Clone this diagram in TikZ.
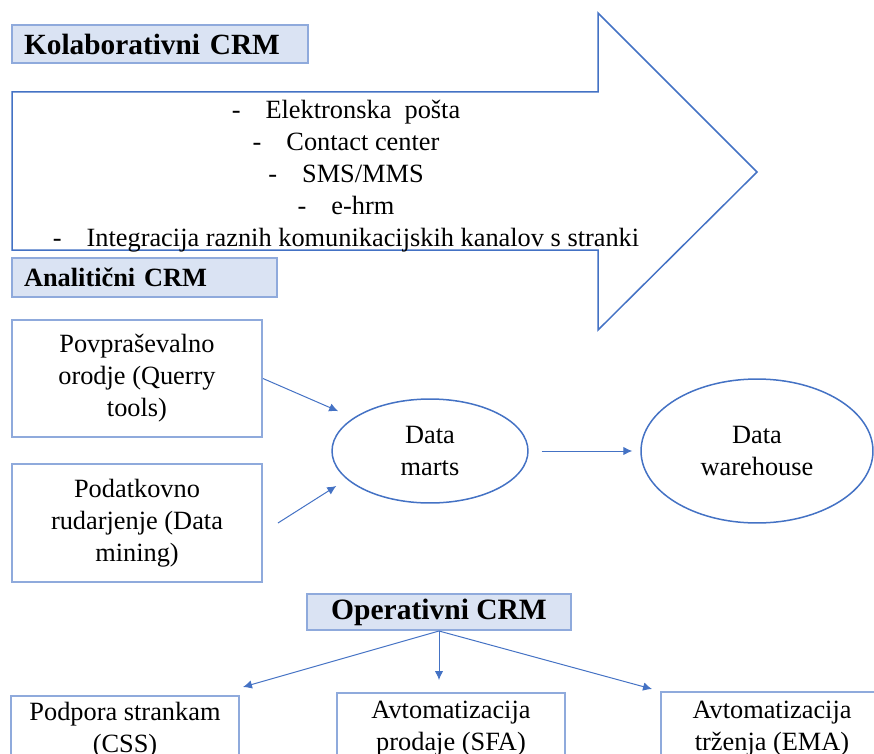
\documentclass[tikz,border=0pt]{standalone}
\usepackage{fontspec}
\setmainfont{Liberation Serif}
\usetikzlibrary{calc, arrows.meta, shapes.geometric}

\definecolor{crmblue}{HTML}{4472C4}
\definecolor{crmline}{HTML}{8FAADC}
\definecolor{crmfill}{HTML}{DAE3F3}
\newcommand{\crmtext}{\fontsize{15}{18.2}\selectfont}

\begin{document}
\begin{tikzpicture}[x=0.02cm, y=-0.02cm, >={Latex[length=0.18cm, width=0.17cm]}]
	\tikzstyle{head} = [draw=crmline, line width=0.04cm, fill=crmfill, inner xsep=0.24cm, inner ysep=0pt, align=left]
	\tikzstyle{box} = [draw=crmline, line width=0.04cm, inner sep=0pt, align=center, font=\crmtext]
	\tikzstyle{oval} = [draw=crmblue, line width=0.03cm, ellipse, inner sep=0pt, align=center, font=\crmtext]
	\tikzstyle{invis} = [draw=none, align=center, font=\crmtext]
	\tikzstyle{link} = [->, draw=crmblue, line width=0.02cm]
	
	\useasboundingbox (0, 0) rectangle (874, 753);
	\clip (0, 0) rectangle (874, 753);
	
	% kolaborativni
	\draw[crmblue, line width=0.03cm] (12, 92) -- (598, 92) -- (598, 13) -- (757, 172)
		-- (598, 330) -- (598, 250) -- (12, 250) -- cycle;
	\node[head, text width=5.44cm, minimum height=0.76cm, font=\fontsize{16.7}{20}\selectfont\bfseries]
		at (160, 44) (kolab) {Kolaborativni CRM};
	\node[invis] at (346, 176) (kanali) {-\hspace{0.95em}Elektronska\ \ pošta\\
		-\hspace{0.95em}Contact center\\
		-\hspace{0.95em}SMS/MMS\\
		-\hspace{0.95em}e-hrm\\
		-\hspace{0.95em}Integracija raznih komunikacijskih kanalov s stranki};
	
	% analiticni
	\node[head, text width=4.82cm, minimum height=0.78cm, font=\fontsize{15}{18}\selectfont\bfseries]
		at (144.5, 277.5) (anal) {Analitični CRM};
	\node[box, minimum width=5cm, minimum height=2.34cm] 	at (137, 378.5)	(query) 	{Povpraševalno\\ orodje (Querry\\ tools)};
	\node[box, minimum width=5cm, minimum height=2.36cm] 	at (137, 523)	(mining) 	{Podatkovno\\ rudarjenje (Data\\ mining)};
	\node[oval, minimum width=3.92cm, minimum height=2.08cm] 	at (430, 451)	(marts) 	{Data\\ marts};
	\node[oval, minimum width=4.64cm, minimum height=2.88cm] 	at (757, 451)	(house) 	{Data\\ warehouse};
	
	\path
	(query.east)	edge[link]	($(query.east)!0.45!(marts.center)$)
	($(mining.east)+(15, 0)$)	edge[link]	($(marts.west)+(5, 35)$)
	(marts)	edge[link, shorten <=0.26cm, shorten >=0.16cm]	(house);
	
	% operativni
	\node[head, align=center, minimum width=5.28cm, minimum height=0.72cm, font=\fontsize{16.8}{20}\selectfont\bfseries]
		at (439, 612) (oper) {Operativni CRM};
	\node[box, minimum width=4.56cm, minimum height=1.36cm] 	at (125, 730)	(css) 	{Podpora strankam\\ (CSS)};
	\node[box, minimum width=4.58cm, minimum height=1.44cm] 	at (451, 729)	(sfa) 	{Avtomatizacija\\ prodaje (SFA)};
	\node[box, minimum width=4.44cm, minimum height=1.48cm] 	at (772, 729)	(ema) 	{Avtomatizacija\\ trženja (EMA)};
	
	\path
	(oper.south)	edge[link]	($(css.north east)+(3, -8)$)
	(oper.south)	edge[link, shorten >=0.24cm]	(oper.south |- sfa.north)
	(oper.south)	edge[link]	($(ema.north west)+(-8, -2)$);
\end{tikzpicture}
\end{document}
